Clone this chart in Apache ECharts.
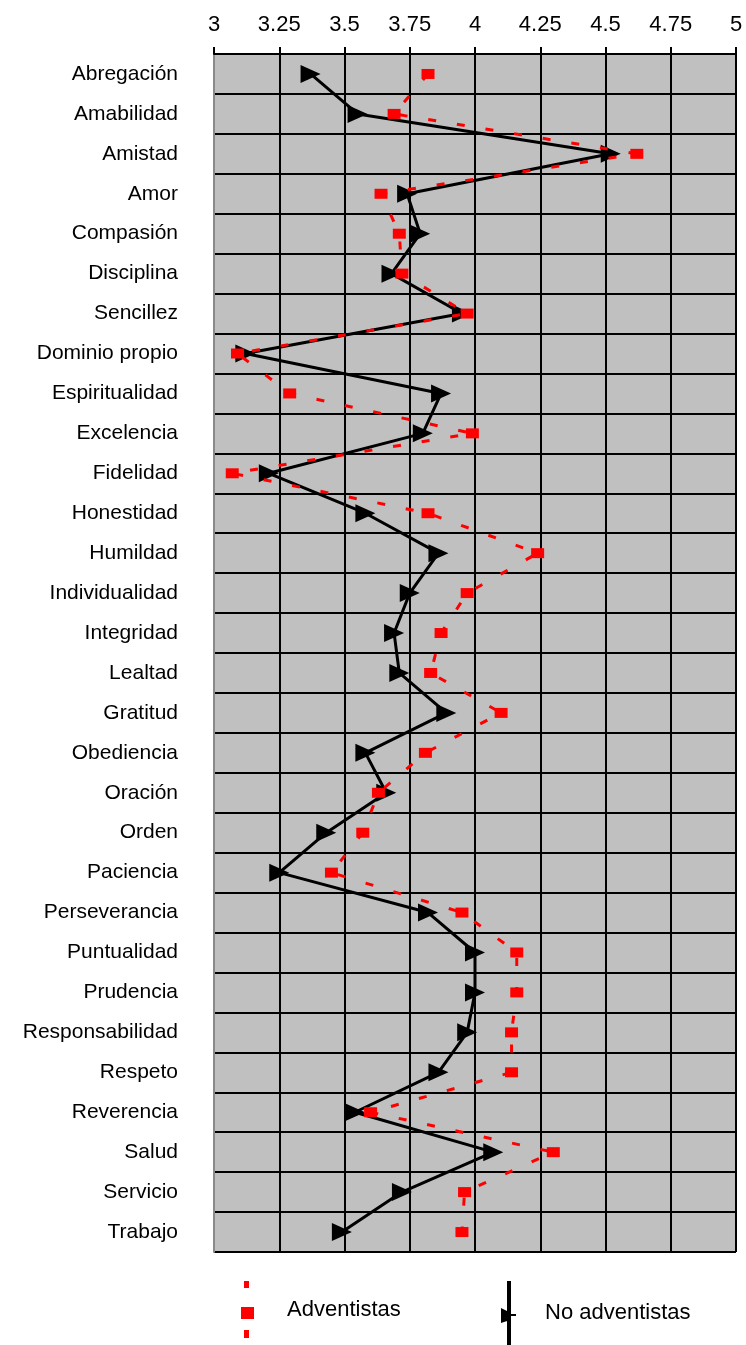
<!DOCTYPE html>
<html>
<head>
<meta charset="utf-8">
<script src="https://cdn.jsdelivr.net/npm/echarts@6/dist/echarts.min.js"></script>
<style>
html,body{margin:0;padding:0;background:#fff;}
#chart{width:746px;height:1345px;}
</style>
</head>
<body>
<div id="chart"></div>
<script>
const categories = ['Abregación','Amabilidad','Amistad','Amor','Compasión','Disciplina','Sencillez','Dominio propio','Espiritualidad','Excelencia','Fidelidad','Honestidad','Humildad','Individualidad','Integridad','Lealtad','Gratitud','Obediencia','Oración','Orden','Paciencia','Perseverancia','Puntualidad','Prudencia','Responsabilidad','Respeto','Reverencia','Salud','Servicio','Trabajo'];
const adventistas = [3.82,3.69,4.62,3.64,3.71,3.72,3.97,3.09,3.29,3.99,3.07,3.82,4.24,3.97,3.87,3.83,4.10,3.81,3.63,3.57,3.45,3.95,4.16,4.16,4.14,4.14,3.60,4.30,3.96,3.95];
const noAdventistas = [3.37,3.55,4.52,3.74,3.79,3.68,3.95,3.12,3.87,3.80,3.21,3.58,3.86,3.75,3.69,3.71,3.89,3.58,3.66,3.43,3.25,3.82,4.00,4.00,3.97,3.86,3.54,4.07,3.72,3.49];
const xTicks = {min:3, max:5, interval:0.25};

const FONT = '"Liberation Sans", Arial, sans-serif';
const chart = echarts.init(document.getElementById('chart'));
chart.setOption({
  animation:false,
  backgroundColor:'#ffffff',
  grid:{left:214, right:10, top:54, bottom:93, show:true, backgroundColor:'#c0c0c0', borderWidth:0},
  xAxis:{
    type:'value', position:'top', min:xTicks.min, max:xTicks.max, interval:xTicks.interval,
    axisLine:{show:true, lineStyle:{color:'#000', width:2}},
    axisTick:{show:true, length:7, lineStyle:{color:'#000', width:2}},
    axisLabel:{fontSize:22, color:'#000', fontFamily:FONT, margin:18},
    splitLine:{show:true, showMinLine:false, lineStyle:{color:'#000', width:2}}
  },
  yAxis:{
    type:'category', data:categories, inverse:true,
    axisLine:{show:true, lineStyle:{color:'#8a8a8a', width:2}},
    axisTick:{show:false},
    axisLabel:{fontSize:21, color:'#000', fontFamily:FONT, margin:36},
    splitLine:{show:true, lineStyle:{color:'#000', width:2}}
  },
  legend:[
    {data:[{name:'Adventistas', icon:'path://M3,0L8,0L8,7L3,7Z M0,26L13,26L13,38L0,38Z M3,49L8,49L8,57L3,57Z'}],
     left:241, top:1281, padding:0, itemWidth:13, itemHeight:57, itemGap:0,
     textStyle:{fontSize:22, color:'#000', fontFamily:FONT, padding:[0,0,18,28]},
     itemStyle:{borderWidth:0}},
    {data:[{name:'No adventistas', icon:'path://M6,0L10,0L10,64L6,64Z M0,27L6,30L6,40L0,42Z M10,33L15,33L15,35L10,35Z'}],
     left:501, top:1281, padding:0, itemWidth:15, itemHeight:64, itemGap:0,
     textStyle:{fontSize:22, color:'#000', fontFamily:FONT, padding:[0,0,24,24]},
     itemStyle:{borderWidth:0}}
  ],
  series:[
    {name:'No adventistas', type:'line', data:noAdventistas, z:3,
     symbol:'triangle', symbolSize:[18,20], symbolRotate:-90,
     itemStyle:{color:'#000'}, lineStyle:{color:'#000', width:3}},
    {name:'Adventistas', type:'line', data:adventistas, z:4,
     symbol:'rect', symbolSize:[13,10],
     itemStyle:{color:'#ff0000'}, lineStyle:{color:'#ff0000', width:3, type:[8,21]}}
  ]
});
</script>
</body>
</html>
